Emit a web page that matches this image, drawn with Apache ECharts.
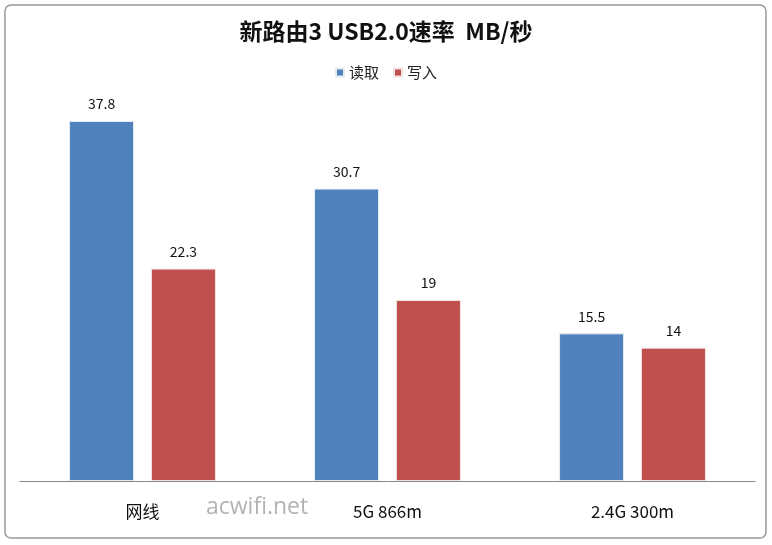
<!DOCTYPE html>
<html><head><meta charset="utf-8">
<script src="https://cdn.jsdelivr.net/npm/echarts@6/dist/echarts.min.js"></script>
<style>html,body{margin:0;padding:0;background:#fff}#c{width:772px;height:545px}</style>
</head><body><div id="c"></div>
<script>
var categories = ['网线', '5G 866m', '2.4G 300m'];
var readValues = [37.8, 30.7, 15.5];
var writeValues = [22.3, 19, 14];
var seriesNames = ['读取', '写入'];

var chart = echarts.init(document.getElementById('c'));
var font = '"Noto Sans CJK SC", "Open Sans", sans-serif';
chart.setOption({
  backgroundColor: '#fff',
  animation: false,
  title: {
    text: '新路由3 USB2.0速率  MB/秒', left: 'center', top: 15,
    textStyle: {fontFamily: font, fontSize: 23, fontWeight: 'bold', color: '#111'}
  },
  legend: {
    data: seriesNames, top: 60, left: 'center', itemWidth: 8, itemHeight: 8, itemGap: 14,
    icon: 'rect',
    textStyle: {fontFamily: font, fontSize: 15, color: '#222'}
  },
  grid: {left: 20, right: 17, top: 100, bottom: 64},
  xAxis: {
    type: 'category', data: categories,
    axisLine: {lineStyle: {color: '#888', width: 1}},
    axisTick: {show: false},
    axisLabel: {fontFamily: font, fontSize: 17, color: '#111', margin: 22}
  },
  yAxis: {type: 'value', min: 0, max: 40, show: false, splitLine: {show: false}},
  series: [
    {name: seriesNames[0], type: 'bar', data: readValues, barWidth: 65, barGap: '26%',
     itemStyle: {color: '#4F81BD', borderColor: '#e6ecf4', borderWidth: 1},
     label: {show: true, position: 'top', distance: 10, fontFamily: font, fontSize: 14, color: '#111'}},
    {name: seriesNames[1], type: 'bar', data: writeValues, barWidth: 65,
     itemStyle: {color: '#C0504D', borderColor: '#f3e4e4', borderWidth: 1},
     label: {show: true, position: 'top', distance: 10, fontFamily: font, fontSize: 14, color: '#111'}}
  ],
  graphic: [
    {type: 'rect', shape: {x: 5, y: 5, width: 761, height: 533, r: 6}, silent: true, z: -1,
     style: {fill: 'none', stroke: '#999', lineWidth: 1.5}},
    {type: 'text', left: 206, top: 496, silent: true, z: 10,
     style: {text: 'acwifi.net', fontFamily: '"Open Sans", sans-serif', fontSize: 23, fill: '#b3b3b3'}}
  ]
});
</script></body></html>
